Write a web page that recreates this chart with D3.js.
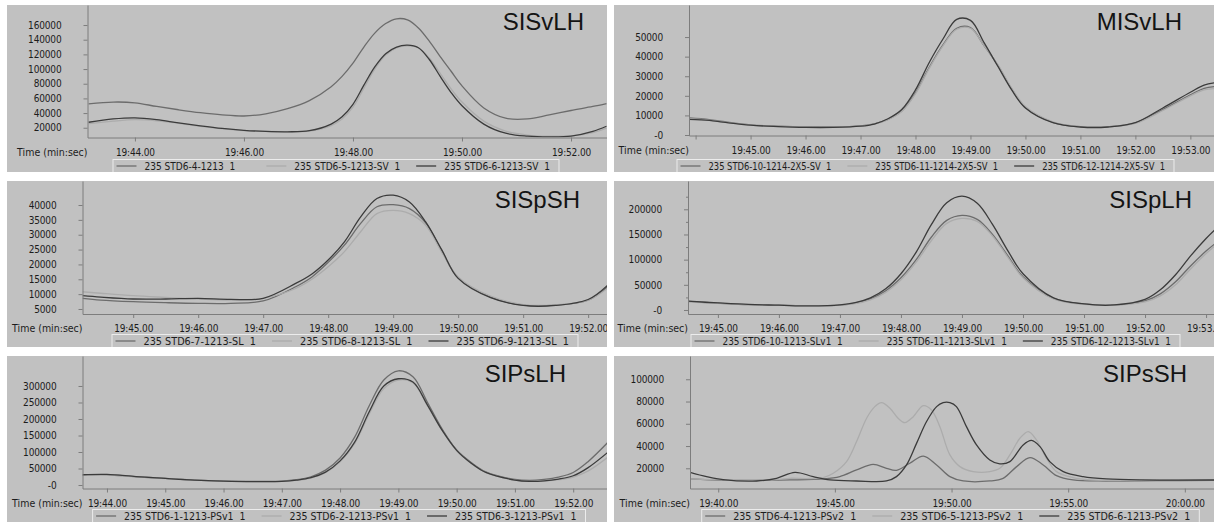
<!DOCTYPE html>
<html>
<head>
<meta charset="utf-8">
<script src="https://cdn.jsdelivr.net/npm/d3@7"></script>
<style>
  body { margin: 0; background: #fff; }
  text { font-family: "DejaVu Sans Condensed", "DejaVu Sans", sans-serif; font-size: 10px; fill: #1c1c1c; }
  .title { font-family: "Liberation Sans", Arial, sans-serif; font-size: 24px; fill: #141414; }
  .legend text { white-space: pre; }
</style>
</head>
<body>
<svg id="chart" width="1218" height="523"></svg>
<script>
// time in seconds (19:44.00 = 1184), values are peak intensities

// SISvLH
var sisvlhTime = [1183.15, 1183.6, 1184.0, 1184.4, 1184.8, 1185.2, 1185.6, 1186.0, 1186.4, 1186.8, 1187.2, 1187.6, 1187.8, 1188.0, 1188.2, 1188.4, 1188.6, 1188.8, 1189.0, 1189.2, 1189.4, 1189.6, 1189.8, 1190.0, 1190.4, 1190.8, 1191.2, 1191.6, 1192.0, 1192.4, 1192.65];
var sisvlhStd4 = [52500, 55000, 54000, 49000, 44500, 40500, 37500, 36000, 39000, 46000, 57000, 76000, 90000, 108000, 130000, 149000, 162000, 168500, 167000, 156000, 138000, 117000, 97000, 77000, 47000, 33000, 32000, 37500, 43500, 49000, 53000];
var sisvlhStd5 = [25500, 29000, 31000, 29500, 26000, 22000, 18500, 16000, 15000, 14500, 15500, 23000, 32000, 48000, 74000, 100000, 119000, 129000, 131500, 129000, 115000, 94000, 73000, 55000, 29000, 15500, 10000, 8500, 9000, 13500, 19500];
var sisvlhStd6 = [27500, 32000, 33500, 31000, 26500, 22500, 19000, 16500, 15000, 14500, 16000, 25000, 35000, 52000, 78000, 103000, 121000, 130000, 132500, 129000, 113000, 90000, 68000, 50000, 25000, 12500, 8500, 7500, 8500, 15000, 22000];
var sisvlhNames = ["235 STD6-4-1213  1", "235 STD6-5-1213-SV  1", "235 STD6-6-1213-SV  1"];
var sisvlhXTicks = [1184, 1186, 1188, 1190, 1192];
var sisvlhYTicks = [20000, 40000, 60000, 80000, 100000, 120000, 140000, 160000];

// MISvLH
var misvlhTime = [1183.88, 1184.25, 1184.5, 1185, 1185.5, 1186, 1186.5, 1187, 1187.25, 1187.5, 1187.75, 1188, 1188.25, 1188.5, 1188.75, 1189, 1189.25, 1189.5, 1189.75, 1190, 1190.5, 1191, 1191.5, 1192, 1192.5, 1193, 1193.25, 1193.45];
var misvlhStd10 = [8700, 7900, 6900, 5200, 4500, 4100, 4100, 4700, 5700, 8000, 12200, 21500, 34500, 46000, 54500, 54800, 45500, 35500, 23500, 14000, 6500, 4200, 4200, 6200, 13000, 20500, 23800, 24700];
var misvlhStd11 = [8300, 7600, 6700, 5100, 4400, 4000, 4000, 4600, 5600, 7900, 12000, 21000, 34000, 45500, 54000, 54500, 45500, 35800, 24000, 14500, 6700, 4300, 4200, 6000, 12500, 20000, 23000, 23700];
var misvlhStd12 = [8000, 7500, 6600, 5000, 4300, 3900, 3900, 4500, 5600, 8300, 13000, 23000, 37000, 49000, 59000, 58500, 47000, 35000, 23000, 13800, 6300, 4100, 4100, 6300, 13800, 21800, 25500, 26700];
var misvlhNames = ["235 STD6-10-1214-2X5-SV  1", "235 STD6-11-1214-2X5-SV  1", "235 STD6-12-1214-2X5-SV  1"];
var misvlhXTicks = [1184, 1185, 1186, 1187, 1188, 1189, 1190, 1191, 1192, 1193];
var misvlhYTicks = [0, 10000, 20000, 30000, 40000, 50000];

// SISpSH
var sispshTime = [1184.22, 1184.5, 1185, 1185.5, 1186, 1186.5, 1187, 1187.5, 1187.75, 1188, 1188.25, 1188.5, 1188.75, 1189, 1189.25, 1189.5, 1189.75, 1190, 1190.5, 1191, 1191.5, 1192, 1192.3];
var sispshStd7 = [8600, 8000, 7460, 7130, 6900, 6900, 7700, 12500, 15800, 20700, 26500, 33800, 39400, 40100, 38800, 34000, 24500, 15500, 9000, 6300, 6300, 8000, 12500];
var sispshStd8 = [10800, 10300, 9480, 8900, 8360, 8020, 8580, 11900, 15000, 19200, 24300, 31000, 37100, 38200, 37100, 33200, 24000, 15800, 9300, 6500, 6400, 8000, 12000];
var sispshStd9 = [9500, 9000, 8360, 8360, 8580, 8250, 8580, 13600, 16800, 21500, 27600, 36000, 42200, 43300, 41000, 34300, 24800, 15300, 8800, 6200, 6200, 8200, 13000];
var sispshNames = ["235 STD6-7-1213-SL  1", "235 STD6-8-1213-SL  1", "235 STD6-9-1213-SL  1"];
var sispshXTicks = [1185, 1186, 1187, 1188, 1189, 1190, 1191, 1192];
var sispshYTicks = [5000, 10000, 15000, 20000, 25000, 30000, 35000, 40000];

// SISpLH
var sisplhTime = [1184.5, 1185, 1185.5, 1186, 1186.5, 1187, 1187.25, 1187.5, 1187.75, 1188, 1188.25, 1188.5, 1188.75, 1189, 1189.25, 1189.5, 1189.75, 1190, 1190.5, 1191, 1191.5, 1192, 1192.25, 1192.5, 1192.75, 1193, 1193.15];
var sisplhStd10 = [17000, 13500, 10500, 9500, 8500, 9500, 13500, 22000, 38000, 64000, 100000, 145000, 178000, 188000, 180000, 150000, 108000, 66000, 23000, 12000, 10000, 18000, 32000, 56000, 88000, 117000, 132000];
var sisplhStd11 = [16500, 13000, 10500, 9500, 8500, 9500, 12500, 20000, 35000, 60000, 95000, 138000, 172000, 182000, 176000, 147000, 105000, 64000, 22000, 11000, 9500, 16000, 28000, 50000, 82000, 112000, 128000];
var sisplhStd12 = [17500, 14000, 11000, 9500, 8000, 10000, 14500, 24000, 42000, 72000, 115000, 170000, 213000, 226000, 212000, 170000, 118000, 72000, 24000, 12000, 10000, 21000, 40000, 70000, 108000, 142000, 160000];
var sisplhNames = ["235 STD6-10-1213-SLv1  1", "235 STD6-11-1213-SLv1  1", "235 STD6-12-1213-SLv1  1"];
var sisplhXTicks = [1185, 1186, 1187, 1188, 1189, 1190, 1191, 1192, 1193];
var sisplhYTicks = [0, 50000, 100000, 150000, 200000];
var sisplhMinor = [25000, 75000, 125000, 175000, 225000];

// SIPsLH
var sipslhTime = [1183.58, 1184, 1184.5, 1185, 1185.5, 1186, 1186.5, 1187, 1187.25, 1187.5, 1187.75, 1188, 1188.25, 1188.5, 1188.75, 1189, 1189.25, 1189.5, 1189.75, 1190, 1190.25, 1190.5, 1191, 1191.25, 1191.5, 1191.75, 1192, 1192.25, 1192.6];
var sipslhStd1 = [30000, 31000, 25000, 20000, 15000, 12000, 11000, 12000, 16000, 25000, 45000, 82000, 145000, 240000, 318000, 346000, 328000, 250000, 170000, 106000, 68000, 40000, 17000, 14000, 17000, 24000, 38000, 70000, 130000];
var sipslhStd2 = [29000, 30000, 24500, 19500, 14500, 11500, 10500, 11000, 14000, 21000, 37000, 70000, 125000, 215000, 292000, 318000, 310000, 240000, 165000, 104000, 65000, 38000, 15000, 11000, 12000, 16000, 24000, 42000, 85000];
var sipslhStd3 = [31000, 32000, 25500, 20000, 15000, 12000, 10500, 11000, 14500, 22000, 39000, 73000, 130000, 222000, 300000, 322000, 312000, 242000, 166000, 105000, 66000, 38000, 15000, 11000, 12500, 18000, 28000, 52000, 100000];
var sipslhNames = ["235 STD6-1-1213-PSv1  1", "235 STD6-2-1213-PSv1  1", "235 STD6-3-1213-PSv1  1"];
var sipslhXTicks = [1184, 1185, 1186, 1187, 1188, 1189, 1190, 1191, 1192];
var sipslhYTicks = [0, 50000, 100000, 150000, 200000, 250000, 300000];

// SIPsSH (each trace sampled at its own times)
var sipsshTime4 = [1178.79, 1180.21, 1181.64, 1183.07, 1184.5, 1185.21, 1185.93, 1186.64, 1187.21, 1187.64, 1188.21, 1188.79, 1189.36, 1189.93, 1190.5, 1191.64, 1192.21, 1192.79, 1193.36, 1193.93, 1194.5, 1195.21, 1196.64, 1198.79, 1201.25];
var sipsshStd4 = [10400, 9200, 9200, 9500, 10400, 12500, 18500, 23600, 20000, 18200, 24500, 31000, 23000, 12500, 8600, 8600, 11000, 21500, 29600, 23000, 13400, 9500, 8600, 8900, 9200];
var sipsshTime5 = [1178.79, 1180.21, 1181.64, 1182.6, 1183.07, 1183.8, 1184.5, 1184.93, 1185.5, 1185.93, 1186.36, 1186.71, 1187.0, 1187.36, 1187.71, 1188.0, 1188.36, 1188.79, 1189.14, 1189.5, 1189.93, 1190.36, 1190.93, 1191.64, 1192.07, 1192.5, 1192.93, 1193.29, 1193.64, 1194.07, 1194.5, 1195.21, 1195.93, 1197.36, 1198.79, 1201.25];
var sipsshStd5 = [10400, 9500, 8900, 10000, 11000, 10800, 11600, 15500, 26000, 44000, 65000, 75400, 79000, 74000, 65000, 61000, 66400, 76300, 72400, 57400, 32000, 21500, 17000, 17000, 20000, 32000, 47000, 53000, 45500, 29000, 17000, 11600, 9500, 8900, 9500, 9500];
var sipsshTime6 = [1178.79, 1179.5, 1180.21, 1181.64, 1182.5, 1183.29, 1184.07, 1184.79, 1185.93, 1187.21, 1187.64, 1188.07, 1188.5, 1188.93, 1189.36, 1189.64, 1189.93, 1190.21, 1190.64, 1191.07, 1191.64, 1192.07, 1192.5, 1193.07, 1193.43, 1193.79, 1194.21, 1194.79, 1195.64, 1196.64, 1198.07, 1201.25];
var sipsshStd6 = [16400, 12500, 9800, 8600, 11000, 16400, 12500, 9500, 8600, 8600, 12500, 23000, 42400, 62000, 75400, 79000, 79000, 75400, 57400, 41000, 27500, 24000, 26000, 41000, 45000, 39500, 26000, 17000, 12500, 10400, 9500, 9500];
var sipsshNames = ["235 STD6-4-1213-PSv2  1", "235 STD6-5-1213-PSv2  1", "235 STD6-6-1213-PSv2  1"];
var sipsshXTicks = [1180, 1185, 1190, 1195, 1200];
var sipsshYTicks = [20000, 40000, 60000, 80000, 100000];

var seriesColors = ["#6c6c6c", "#acacac", "#3b3b3b"];
var panelFill = "#c1c1c1";
var axisColor = "#7d7d7d";

var fmtTime = function(t) {
  var m = Math.floor(t / 60);
  var s = t - m * 60;
  return m + ":" + (s < 10 ? "0" : "") + s.toFixed(2);
};
var fmtValue = function(v) {
  return v === 0 ? "-0" : String(v);
};

// legend: [left, right] of the box
var panels = [
  { title: "SISvLH", box: [7, 5, 607, 172], axisX: 87.5, bottom: 137.5,
    xDom: [1183.13, 1192.66], yDom: [6700, 187300], titleAt: [584, 30], legend: [113, 559],
    xTicks: sisvlhXTicks, yTicks: sisvlhYTicks, names: sisvlhNames,
    series: [[sisvlhTime, sisvlhStd4], [sisvlhTime, sisvlhStd5], [sisvlhTime, sisvlhStd6]] },
  { title: "MISvLH", box: [614, 5, 1214, 172], axisX: 689, bottom: 135.5,
    xDom: [1183.88, 1193.43], yDom: [-250, 66360], titleAt: [1182, 30], legend: [677, 1174],
    xTicks: misvlhXTicks, yTicks: misvlhYTicks, names: misvlhNames,
    series: [[misvlhTime, misvlhStd10], [misvlhTime, misvlhStd11], [misvlhTime, misvlhStd12]] },
  { title: "SISpSH", box: [7, 181, 607, 347], axisX: 82.5, bottom: 314,
    xDom: [1184.22, 1192.29], yDom: [3317, 48080], titleAt: [580, 208], legend: [112, 578],
    xTicks: sispshXTicks, yTicks: sispshYTicks, names: sispshNames,
    series: [[sispshTime, sispshStd7], [sispshTime, sispshStd8], [sispshTime, sispshStd9]] },
  { title: "SISpLH", box: [614, 181, 1214, 347], axisX: 688, bottom: 314,
    xDom: [1184.51, 1193.13], yDom: [-7950, 256200], titleAt: [1192, 208], legend: [691, 1180],
    xTicks: sisplhXTicks, yTicks: sisplhYTicks, minor: sisplhMinor, names: sisplhNames,
    series: [[sisplhTime, sisplhStd10], [sisplhTime, sisplhStd11], [sisplhTime, sisplhStd12]] },
  { title: "SIPsLH", box: [7, 356, 607, 522], axisX: 82.5, bottom: 488.5,
    xDom: [1183.58, 1192.58], yDom: [-10600, 390900], titleAt: [566, 381.7], legend: [92.6, 585.5],
    xTicks: sipslhXTicks, yTicks: sipslhYTicks, names: sipslhNames,
    series: [[sipslhTime, sipslhStd1], [sipslhTime, sipslhStd2], [sipslhTime, sipslhStd3]] },
  { title: "SIPsSH", box: [614, 356, 1214, 522], axisX: 690, bottom: 488.5,
    xDom: [1178.79, 1201.25], yDom: [1840, 120900], titleAt: [1187, 381.7], legend: [701.7, 1199.3],
    xTicks: sipsshXTicks, yTicks: sipsshYTicks, names: sipsshNames,
    series: [[sipsshTime4, sipsshStd4], [sipsshTime5, sipsshStd5], [sipsshTime6, sipsshStd6]] }
];

var svg = d3.select("#chart");
var defs = svg.append("defs");

var drawPanel = function(p, idx) {
  var x0 = p.box[0], y0 = p.box[1], x1 = p.box[2], y1 = p.box[3];

  defs.append("clipPath").attr("id", "panel" + idx).append("rect")
    .attr("x", x0).attr("y", y0).attr("width", x1 - x0).attr("height", y1 - y0);
  defs.append("clipPath").attr("id", "plot" + idx).append("rect")
    .attr("x", p.axisX).attr("y", y0).attr("width", x1 - p.axisX).attr("height", p.bottom - y0);

  var g = svg.append("g").attr("clip-path", "url(#panel" + idx + ")");
  g.append("rect")
    .attr("x", x0).attr("y", y0).attr("width", x1 - x0).attr("height", y1 - y0)
    .attr("fill", panelFill);

  var x = d3.scaleLinear().domain(p.xDom).range([p.axisX, x1]);
  var y = d3.scaleLinear().domain(p.yDom).range([p.bottom, y0]);

  //traces
  var line = d3.line()
    .x(function(d) { return x(d[0]); })
    .y(function(d) { return y(d[1]); })
    .curve(d3.curveCatmullRom.alpha(0.5));
  var plot = g.append("g").attr("clip-path", "url(#plot" + idx + ")");
  p.series.forEach(function(s, i) {
    plot.append("path")
      .datum(d3.zip(s[0], s[1]))
      .attr("d", line)
      .attr("fill", "none")
      .attr("stroke", seriesColors[i])
      .attr("stroke-width", 1.3)
      .attr("stroke-linejoin", "round");
  });

  //axes
  var xAxis = g.append("g")
    .attr("transform", "translate(0," + p.bottom + ")")
    .call(d3.axisBottom(x).tickValues(p.xTicks).tickFormat(fmtTime).tickSize(4).tickSizeOuter(0));
  xAxis.selectAll("text").attr("y", 18).attr("dy", 0);

  g.append("g")
    .attr("transform", "translate(" + p.axisX + ",0)")
    .call(d3.axisLeft(y).tickValues(p.yTicks).tickFormat(fmtValue).tickSize(4).tickPadding(22).tickSizeOuter(0));

  if (p.minor) {
    g.append("g")
      .attr("transform", "translate(" + p.axisX + ",0)")
      .call(d3.axisLeft(y).tickValues(p.minor).tickFormat("").tickSize(2).tickSizeOuter(0))
      .select(".domain").remove();
  }

  g.selectAll(".domain, .tick line").attr("stroke", axisColor);
  g.selectAll(".tick text").attr("fill", "#1c1c1c")
    .style("font-family", "'DejaVu Sans Condensed', 'DejaVu Sans', sans-serif")
    .style("font-size", "10px").style("letter-spacing", "-0.15px");

  // labels that would run into the axis title are dropped, as in the original
  xAxis.selectAll(".tick").each(function(t) {
    var txt = d3.select(this).select("text");
    var w = txt.node().getComputedTextLength();
    if (x(t) - w / 2 < p.axisX) txt.remove();
  });

  g.append("text")
    .attr("x", p.axisX).attr("y", p.bottom + 18)
    .attr("text-anchor", "end")
    .style("font-size", "10.5px")
    .text("Time (min:sec)");

  g.append("text").attr("class", "title")
    .attr("x", p.titleAt[0]).attr("y", p.titleAt[1])
    .attr("text-anchor", "end")
    .text(p.title);

  //legend: entries squeezed so the row fills the box width of the original
  var leg = g.append("g").attr("class", "legend");
  var labels = p.names.map(function(n) {
    return leg.append("text").attr("y", y1 - 2).style("font-size", "10px").text(n);
  });
  var natural = labels.map(function(t) { return t.node().getComputedTextLength(); });
  var m = d3.max(natural);
  var k = (p.legend[1] - p.legend[0] - 128.5) / (2 * m + natural[2]);
  var itemW = 28 + m * k + 16;
  labels.forEach(function(t, i) {
    var lx = p.legend[0] + 3.5 + i * itemW;
    leg.append("line")
      .attr("x1", lx).attr("x2", lx + 20)
      .attr("y1", y1 - 6).attr("y2", y1 - 6)
      .attr("stroke", seriesColors[i]).attr("stroke-width", 1.3);
    t.attr("x", lx + 28)
      .style("font-size", "10.5px")
      .attr("textLength", natural[i] * k)
      .attr("lengthAdjust", "spacingAndGlyphs");
  });
  leg.insert("rect", ":first-child")
    .attr("x", p.legend[0]).attr("y", y1 - 12.5)
    .attr("width", p.legend[1] - p.legend[0]).attr("height", 14)
    .attr("fill", "none").attr("stroke", "#ececec").attr("stroke-width", 1);
};

panels.forEach(drawPanel);
</script>
</body>
</html>
